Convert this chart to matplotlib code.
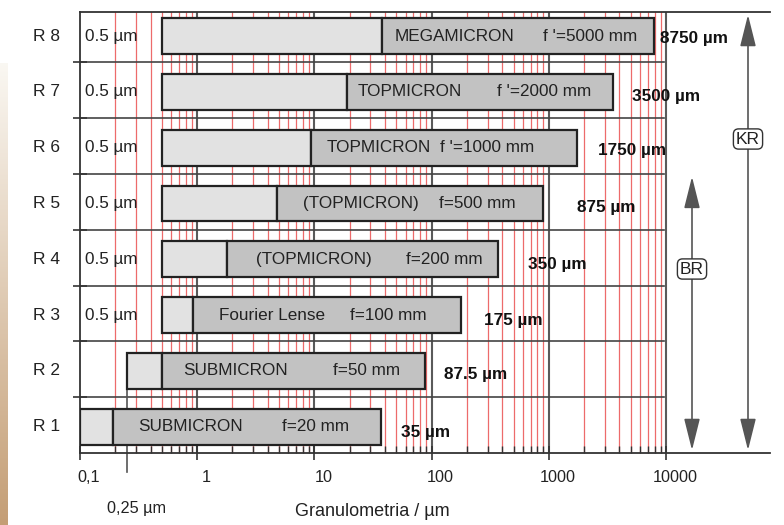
import numpy as np
import matplotlib
matplotlib.use("Agg")
import matplotlib.pyplot as plt
from matplotlib.patches import FancyArrowPatch
import matplotlib.transforms as mtransforms

plt.rcParams['font.family'] = ['Liberation Sans', 'DejaVu Sans']

# ---------------- data ----------------
rows = ["R 1", "R 2", "R 3", "R 4", "R 5", "R 6", "R 7", "R 8"]
range_start = [0.1, 0.25, 0.5, 0.5, 0.5, 0.5, 0.5, 0.5]
range_split = [0.19, 0.5, 0.92, 1.8, 4.8, 9.4, 19, 38]
range_end = [37, 88, 178, 370, 890, 1740, 3550, 7850]
lens_names = ["SUBMICRON", "SUBMICRON", "Fourier Lense", "(TOPMICRON)",
              "(TOPMICRON)", "TOPMICRON", "TOPMICRON", "MEGAMICRON"]
focal = ["f=20 mm", "f=50 mm", "f=100 mm", "f=200 mm", "f=500 mm",
         "f '=1000 mm", "f '=2000 mm", "f '=5000 mm"]
max_labels = ["35 µm", "87.5 µm", "175 µm", "350 µm", "875 µm",
              "1750 µm", "3500 µm", "8750 µm"]
min_labels = ["", "", "0.5 µm", "0.5 µm", "0.5 µm", "0.5 µm", "0.5 µm", "0.5 µm"]
decades = [0.1, 1, 10, 100, 1000, 10000]
decade_labels = ["0,1", "1", "10", "100", "1000", "10000"]

# ---------------- layout (pixels) ----------------
W, H = 784, 525
AX_L, AX_R, AX_T, AX_B = 80, 770, 12, 453
XMAX = 10 ** (-1 + (AX_R - AX_L) / 117.2)
YMAX = 7.9

fig = plt.figure(figsize=(W / 100, H / 100), dpi=100)
ax = fig.add_axes([AX_L / W, 1 - AX_B / H, (AX_R - AX_L) / W, (AX_B - AX_T) / H])
ax.set_xscale('log')
ax.set_xlim(0.1, XMAX)
ax.set_ylim(0, YMAX)

def fx(px):
    return (px - AX_L) / (AX_R - AX_L)

def fy(py):
    return (AX_B - py) / (AX_B - AX_T)

# left beige gradient strip
gax = fig.add_axes([0, 0, 8 / W, (H - 63) / H])
grad = np.linspace(0, 1, 256)[:, None]
c_top = np.array([0.98, 0.97, 0.95])
c_bot = np.array([0.77, 0.62, 0.46])
img = (c_top[None, None, :] * (1 - grad[..., None]) + c_bot[None, None, :] * grad[..., None])
gax.imshow(img, aspect='auto', extent=[0, 1, 0, 1])
gax.axis('off')

# grid lines
for d in decades[:-1]:
    for m in range(2, 10):
        ax.axvline(d * m, color='#e83a3a', lw=0.9, alpha=0.75, zorder=1)
for d in decades[1:]:
    ax.axvline(d, color='#5a5a5a', lw=1.5, zorder=1.5)
for yb in range(1, 8):
    ax.axhline(yb, xmin=0, xmax=fx(664), color='#444444', lw=1.2, zorder=1.5)

# bars
bar_h = 0.64
centers = [i + 0.47 for i in range(len(rows))]
for i in range(len(rows)):
    c = centers[i]
    ax.barh(c, range_split[i] - range_start[i], left=range_start[i], height=bar_h,
            color='#e2e2e2', edgecolor='#222222', lw=1.6, zorder=3)
    ax.barh(c, range_end[i] - range_split[i], left=range_split[i], height=bar_h,
            color='#c2c2c2', edgecolor='#222222', lw=1.6, zorder=3)

# 0.25 µm marker line
ax.plot([0.25, 0.25], [centers[1] - bar_h / 2, -0.34], color='#555555', lw=1.2,
        clip_on=False, zorder=2)

# texts
name_px = [138, 183, 219, 256, 303, 327, 358, 395]
focal_px = [282, 333, 350, 406, 439, 440, 497, 543]
max_px = [401, 444, 484, 528, 577, 598, 632, 660]
max_py = [433, 375, 320, 264, 207, 150, 96, 38]
tc = '#222222'
blend = mtransforms.blended_transform_factory(ax.transAxes, ax.transData)
for i in range(len(rows)):
    c = centers[i]
    ax.text(fx(name_px[i]), c, lens_names[i], transform=blend,
            ha='left', va='center', fontsize=12.3, color=tc, zorder=5)
    ax.text(fx(focal_px[i]), c, focal[i], transform=blend,
            ha='left', va='center', fontsize=12.3, color=tc, zorder=5)
    ax.text(fx(max_px[i]), fy(max_py[i]), max_labels[i], transform=ax.transAxes,
            ha='left', va='center', fontsize=12.3, fontweight='bold', color='#111111', zorder=5)
    if min_labels[i]:
        ax.text(fx(85), c, min_labels[i], transform=blend,
                ha='left', va='center', fontsize=12.3, color=tc, zorder=5)
    yc_px = AX_B - c * (AX_B - AX_T) / YMAX
    fig.text(33 / W, 1 - yc_px / H, rows[i], ha='left', va='center', fontsize=12.5, color=tc)

# axes styling
ax.spines['right'].set_visible(False)
for s in ['top', 'bottom', 'left']:
    ax.spines[s].set_color('#333333')
    ax.spines[s].set_linewidth(1.3)
ax.set_yticks(range(1, 8))
ax.set_yticklabels([])
ax.tick_params(axis='y', direction='inout', length=10, width=1.2, color='#333333')
ax.set_xticks(decades)
ax.set_xticklabels([])
minor = [d * m for d in decades[:-1] for m in range(2, 10)]
ax.set_xticks(minor, minor=True)
ax.set_xticklabels([], minor=True)
ax.tick_params(axis='x', which='major', direction='inout', length=10, width=1.2, color='#333333')
ax.tick_params(axis='x', which='minor', direction='in', length=5, width=1.0, color='#333333')

off = mtransforms.ScaledTranslation(9 / 100, 0, fig.dpi_scale_trans)
for d, lab in zip(decades, decade_labels):
    ax.text(d, fy(478) * YMAX, lab, ha='center', va='center', fontsize=11.7, color=tc,
            transform=ax.transData + off, clip_on=False)
fig.text(137 / W, 1 - 508 / H, "0,25 µm", ha='center', va='center', fontsize=11.7, color=tc)
fig.text(372 / W, 1 - 512 / H, "Granulometria / µm", ha='center', va='center', fontsize=13, color=tc)

# range arrows
for px_x, y0, y1, lab, lab_py in [(692, 0, 5, "BR", 269), (748, 0, YMAX, "KR", 139)]:
    xf = fx(px_x)
    arr = FancyArrowPatch((xf, y0 / YMAX), (xf, y1 / YMAX), transform=ax.transAxes,
                          arrowstyle='<|-|>,head_length=1.4,head_width=0.35', mutation_scale=14,
                          color='#555555', facecolor='#888888', lw=1.2, clip_on=False, zorder=4)
    ax.add_patch(arr)
    ax.text(xf, fy(lab_py), lab, transform=ax.transAxes, ha='center', va='center',
            fontsize=12.5, color=tc, zorder=6,
            bbox=dict(boxstyle='round,pad=0.15,rounding_size=0.3', fc='white', ec='#333333', lw=1.0))

fig.savefig('out.png', dpi=100)
